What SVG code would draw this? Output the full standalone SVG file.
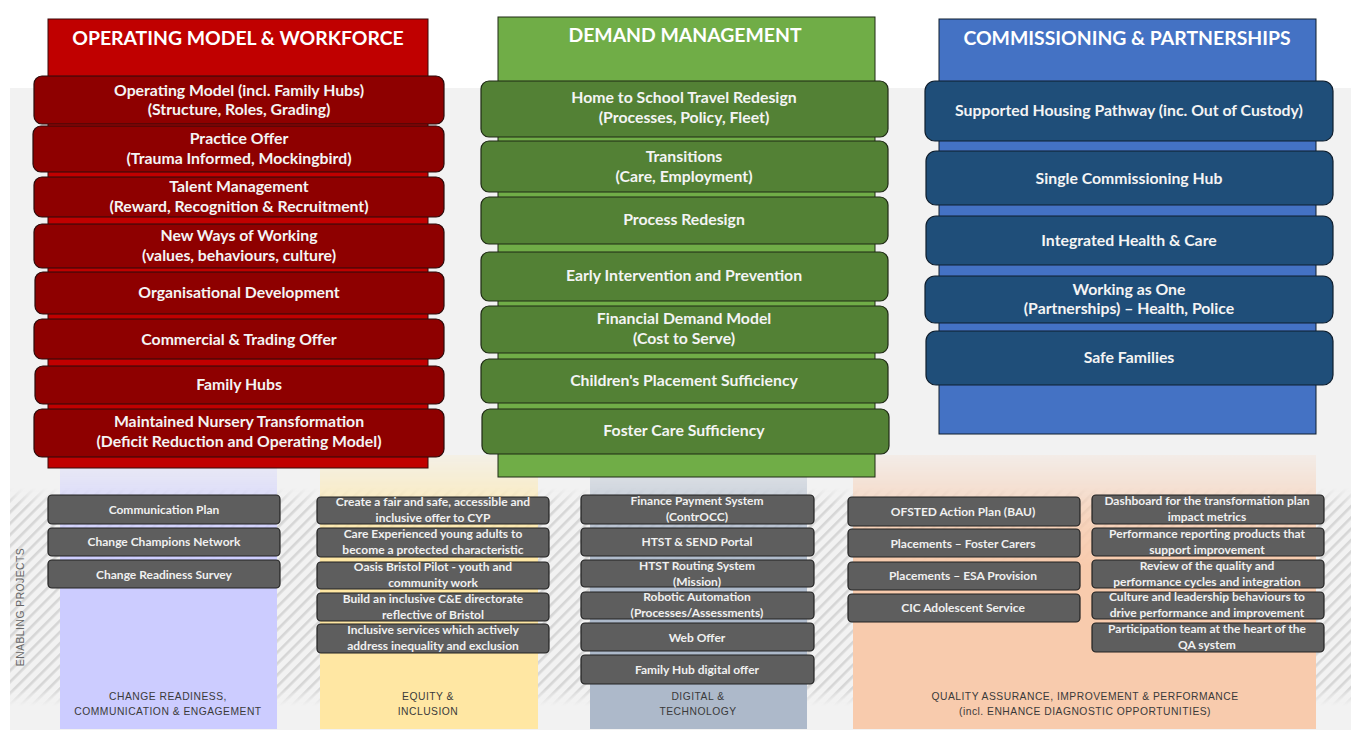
<svg xmlns="http://www.w3.org/2000/svg" width="1351" height="731" viewBox="0 0 1351 731">
<defs>
<pattern id="hatch" patternUnits="userSpaceOnUse" width="8" height="8" patternTransform="rotate(45)">
<rect x="0" y="0" width="8" height="8" fill="#f2f2f2"/>
<rect x="0" y="0" width="2.6" height="8" fill="#d6d6d6"/>
</pattern>
<linearGradient id="fadeV" x1="0" y1="0" x2="0" y2="1">
<stop offset="0" stop-color="#fff" stop-opacity="0"/>
<stop offset="0.08" stop-color="#fff" stop-opacity="1"/>
<stop offset="0.92" stop-color="#fff" stop-opacity="1"/>
<stop offset="1" stop-color="#fff" stop-opacity="0"/>
</linearGradient>
<mask id="hatchMask" maskUnits="userSpaceOnUse" x="0" y="480" width="1351" height="240">
<rect x="10" y="488" width="1341" height="218" fill="url(#fadeV)"/>
</mask>
<linearGradient id="colFade" x1="0" y1="0" x2="0" y2="1">
<stop offset="0" stop-color="#fff" stop-opacity="0.15"/>
<stop offset="0.25" stop-color="#fff" stop-opacity="0.8"/>
<stop offset="0.4" stop-color="#fff" stop-opacity="1"/>
<stop offset="1" stop-color="#fff" stop-opacity="1"/>
</linearGradient>
<mask id="colMask" maskUnits="userSpaceOnUse" x="0" y="440" width="1351" height="291">
<rect x="0" y="455" width="1351" height="276" fill="url(#colFade)"/>
</mask>
</defs>
<style>
.title{font-family:Lato,"Liberation Sans",sans-serif;font-weight:bold;font-size:19.4px;fill:#ffffff;text-anchor:middle}
.bt{font-family:Lato,"Liberation Sans",sans-serif;font-weight:bold;font-size:15.8px;fill:#f4f4f4;text-anchor:middle}
.st{font-family:Lato,"Liberation Sans",sans-serif;font-weight:bold;font-size:12px;fill:#f0f0f0;text-anchor:middle}
.lbl{font-family:"Liberation Sans",sans-serif;font-size:10.3px;fill:#3a3a3a;text-anchor:middle;letter-spacing:0.5px}
.red{fill:#8e0000;stroke:#2a0a0a;stroke-width:1.2}
.green{fill:#538135;stroke:#1e2a14;stroke-width:1.2}
.blue{fill:#1f4e79;stroke:#0e1e2e;stroke-width:1.2}
.gray{fill:#5e5e5e;stroke:#222;stroke-width:1.2}
</style>
<rect x="0" y="0" width="1351" height="731" fill="#ffffff"/>
<rect x="10" y="88" width="1341" height="642" fill="#f2f2f2"/>
<rect x="10" y="488" width="1341" height="218" fill="url(#hatch)" mask="url(#hatchMask)"/>
<g id="columns-bottom" mask="url(#colMask)">
<rect x="60" y="455" width="217" height="274" fill="#ccccff"/>
<rect x="320" y="455" width="218" height="274" fill="#ffe7a3"/>
<rect x="590" y="455" width="217" height="274" fill="#adb9ca"/>
<rect x="853" y="455" width="463" height="274" fill="#f8cbad"/>
</g>

<g id="operating-model">
<rect x="48" y="19" width="380" height="449" fill="#c00000" stroke="#3a0a0a" stroke-width="1"/>
<text class="title" x="238" y="45">OPERATING MODEL &amp; WORKFORCE</text>
</g>
<g id="om-1"><rect class="red" x="34" y="76" width="410" height="48" rx="8"/><text class="bt" x="239" y="95.5">Operating Model (incl. Family Hubs)</text><text class="bt" x="239" y="115">(Structure, Roles, Grading)</text></g>
<g id="om-2"><rect class="red" x="33" y="126" width="411" height="46" rx="8"/><text class="bt" x="239" y="144">Practice Offer</text><text class="bt" x="239" y="164">(Trauma Informed, Mockingbird)</text></g>
<g id="om-3"><rect class="red" x="34" y="177" width="410" height="40" rx="8"/><text class="bt" x="239" y="192">Talent Management</text><text class="bt" x="239" y="212">(Reward, Recognition &amp; Recruitment)</text></g>
<g id="om-4"><rect class="red" x="34" y="224" width="410" height="44" rx="8"/><text class="bt" x="239" y="241">New Ways of Working</text><text class="bt" x="239" y="261">(values, behaviours, culture)</text></g>
<g id="om-5"><rect class="red" x="35" y="272" width="409" height="42" rx="8"/><text class="bt" x="239" y="297.5">Organisational Development</text></g>
<g id="om-6"><rect class="red" x="34" y="319" width="410" height="40" rx="8"/><text class="bt" x="239" y="344.5">Commercial &amp; Trading Offer</text></g>
<g id="om-7"><rect class="red" x="35" y="366" width="409" height="38" rx="8"/><text class="bt" x="239" y="390">Family Hubs</text></g>
<g id="om-8"><rect class="red" x="34" y="409" width="410" height="48" rx="8"/><text class="bt" x="239" y="427">Maintained Nursery Transformation</text><text class="bt" x="239" y="447">(Deficit Reduction and Operating Model)</text></g>

<g id="demand-management">
<rect x="498" y="17" width="377" height="460" fill="#70ad47" stroke="#1e2a14" stroke-width="1"/>
<text class="title" x="685" y="42">DEMAND MANAGEMENT</text>
</g>
<g id="dm-1"><rect class="green" x="481" y="81" width="407" height="56" rx="8"/><text class="bt" x="684" y="103">Home to School Travel Redesign</text><text class="bt" x="684" y="123">(Processes, Policy, Fleet)</text></g>
<g id="dm-2"><rect class="green" x="481" y="141" width="407" height="51" rx="8"/><text class="bt" x="684" y="162">Transitions</text><text class="bt" x="684" y="182">(Care, Employment)</text></g>
<g id="dm-3"><rect class="green" x="481" y="197" width="407" height="47" rx="8"/><text class="bt" x="684" y="225">Process Redesign</text></g>
<g id="dm-4"><rect class="green" x="481" y="252" width="407" height="49" rx="8"/><text class="bt" x="684" y="281">Early Intervention and Prevention</text></g>
<g id="dm-5"><rect class="green" x="481" y="306" width="407" height="47" rx="8"/><text class="bt" x="684" y="324">Financial Demand Model</text><text class="bt" x="684" y="344">(Cost to Serve)</text></g>
<g id="dm-6"><rect class="green" x="481" y="359" width="407" height="44" rx="8"/><text class="bt" x="684" y="386">Children's Placement Sufficiency</text></g>
<g id="dm-7"><rect class="green" x="482" y="409" width="407" height="45" rx="8"/><text class="bt" x="684" y="436">Foster Care Sufficiency</text></g>

<g id="commissioning">
<rect x="939" y="19" width="377" height="415" fill="#4472c4" stroke="#0e1e2e" stroke-width="1"/>
<text class="title" x="1127" y="45">COMMISSIONING &amp; PARTNERSHIPS</text>
</g>
<g id="cp-1"><rect class="blue" x="925" y="81" width="408" height="60" rx="10"/><text class="bt" x="1129" y="116">Supported Housing Pathway (inc. Out of Custody)</text></g>
<g id="cp-2"><rect class="blue" x="926" y="151" width="407" height="54" rx="10"/><text class="bt" x="1129" y="184">Single Commissioning Hub</text></g>
<g id="cp-3"><rect class="blue" x="926" y="216" width="407" height="49" rx="10"/><text class="bt" x="1129" y="246">Integrated Health &amp; Care</text></g>
<g id="cp-4"><rect class="blue" x="925" y="276" width="408" height="47" rx="10"/><text class="bt" x="1129" y="295">Working as One</text><text class="bt" x="1129" y="314">(Partnerships) – Health, Police</text></g>
<g id="cp-5"><rect class="blue" x="926" y="331" width="407" height="54" rx="10"/><text class="bt" x="1129" y="363">Safe Families</text></g>

<text class="lbl" transform="translate(24,607) rotate(-90)" style="fill:#666">ENABLING PROJECTS</text>

<g id="cr-1"><rect class="gray" x="48" y="495" width="232" height="29" rx="4"/><text class="st" x="164" y="513.5">Communication Plan</text></g>
<g id="cr-2"><rect class="gray" x="48" y="528" width="232" height="28" rx="4"/><text class="st" x="164" y="545.5">Change Champions Network</text></g>
<g id="cr-3"><rect class="gray" x="48" y="560" width="232" height="28" rx="4"/><text class="st" x="164" y="578.5">Change Readiness Survey</text></g>
<text class="lbl" x="168" y="700">CHANGE READINESS,</text>
<text class="lbl" x="168" y="715">COMMUNICATION &amp; ENGAGEMENT</text>

<g id="ei-1"><rect class="gray" x="317" y="497" width="232" height="27" rx="4"/><text class="st" x="433" y="506">Create a fair and safe, accessible and</text><text class="st" x="433" y="522">inclusive offer to CYP</text></g>
<g id="ei-2"><rect class="gray" x="317" y="528" width="232" height="29" rx="4"/><text class="st" x="433" y="538">Care Experienced young adults to</text><text class="st" x="433" y="554">become a protected characteristic</text></g>
<g id="ei-3"><rect class="gray" x="317" y="562" width="232" height="27" rx="4"/><text class="st" x="433" y="571">Oasis Bristol Pilot - youth and</text><text class="st" x="433" y="587">community work</text></g>
<g id="ei-4"><rect class="gray" x="317" y="593" width="232" height="28" rx="4"/><text class="st" x="433" y="603">Build an inclusive C&amp;E directorate</text><text class="st" x="433" y="619">reflective of Bristol</text></g>
<g id="ei-5"><rect class="gray" x="317" y="624" width="232" height="29" rx="4"/><text class="st" x="433" y="634">Inclusive services which actively</text><text class="st" x="433" y="650">address inequality and exclusion</text></g>
<text class="lbl" x="428" y="700">EQUITY &amp;</text>
<text class="lbl" x="428" y="715">INCLUSION</text>

<g id="dt-1"><rect class="gray" x="581" y="495" width="233" height="29" rx="4"/><text class="st" x="697" y="505">Finance Payment System</text><text class="st" x="697" y="521">(ContrOCC)</text></g>
<g id="dt-2"><rect class="gray" x="581" y="528" width="233" height="28" rx="4"/><text class="st" x="697" y="545.5">HTST &amp; SEND Portal</text></g>
<g id="dt-3"><rect class="gray" x="581" y="560" width="233" height="27" rx="4"/><text class="st" x="697" y="570">HTST Routing System</text><text class="st" x="697" y="586">(Mission)</text></g>
<g id="dt-4"><rect class="gray" x="581" y="592" width="233" height="27" rx="4"/><text class="st" x="697" y="601">Robotic Automation</text><text class="st" x="697" y="617">(Processes/Assessments)</text></g>
<g id="dt-5"><rect class="gray" x="581" y="623" width="233" height="28" rx="4"/><text class="st" x="697" y="641.5">Web Offer</text></g>
<g id="dt-6"><rect class="gray" x="581" y="655" width="233" height="29" rx="4"/><text class="st" x="697" y="673.5">Family Hub digital offer</text></g>
<text class="lbl" x="698" y="700">DIGITAL &amp;</text>
<text class="lbl" x="698" y="715">TECHNOLOGY</text>

<g id="qa-1"><rect class="gray" x="848" y="497" width="232" height="29" rx="4"/><text class="st" x="963" y="515.5">OFSTED Action Plan (BAU)</text></g>
<g id="qa-2"><rect class="gray" x="848" y="529" width="232" height="28" rx="4"/><text class="st" x="963" y="547.5">Placements – Foster Carers</text></g>
<g id="qa-3"><rect class="gray" x="848" y="562" width="232" height="28" rx="4"/><text class="st" x="963" y="579.5">Placements – ESA Provision</text></g>
<g id="qa-4"><rect class="gray" x="848" y="594" width="232" height="28" rx="4"/><text class="st" x="963" y="611.5">CIC Adolescent Service</text></g>
<g id="qa-5"><rect class="gray" x="1092" y="495" width="232" height="29" rx="4"/><text class="st" x="1207" y="505">Dashboard for the transformation plan</text><text class="st" x="1207" y="521">impact metrics</text></g>
<g id="qa-6"><rect class="gray" x="1092" y="528" width="232" height="28" rx="4"/><text class="st" x="1207" y="538">Performance reporting products that</text><text class="st" x="1207" y="554">support improvement</text></g>
<g id="qa-7"><rect class="gray" x="1092" y="560" width="232" height="28" rx="4"/><text class="st" x="1207" y="570">Review of the quality and</text><text class="st" x="1207" y="586">performance cycles and integration</text></g>
<g id="qa-8"><rect class="gray" x="1092" y="592" width="232" height="27" rx="4"/><text class="st" x="1207" y="601">Culture and leadership behaviours to</text><text class="st" x="1207" y="617">drive performance and improvement</text></g>
<g id="qa-9"><rect class="gray" x="1092" y="623" width="232" height="29" rx="4"/><text class="st" x="1207" y="633">Participation team at the heart of the</text><text class="st" x="1207" y="649">QA system</text></g>
<text class="lbl" x="1085" y="700">QUALITY ASSURANCE, IMPROVEMENT &amp; PERFORMANCE</text>
<text class="lbl" x="1085" y="715">(incl. ENHANCE DIAGNOSTIC OPPORTUNITIES)</text>
</svg>
